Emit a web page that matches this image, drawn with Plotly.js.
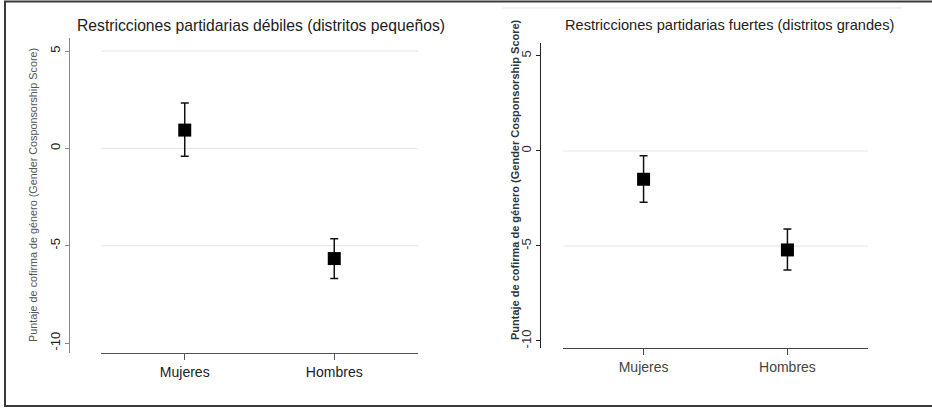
<!DOCTYPE html>
<html>
<head>
<meta charset="utf-8">
<script src="https://cdn.plot.ly/plotly-3.0.1.min.js"></script>
<style>
html,body{margin:0;padding:0;background:#fff;}
#chart{width:932px;height:408px;}
</style>
</head>
<body>
<div id="chart"></div>
<script>
// ---- Data ----
const categories = ["Mujeres", "Hombres"];
const catPos = [1, 2];
const weakEst = [0.94, -5.66];
const weakLow = [-0.40, -6.68];
const weakHigh = [2.33, -4.64];
const strongEst = [-1.49, -5.21];
const strongLow = [-2.70, -6.26];
const strongHigh = [-0.25, -4.11];
const yTicks = [5, 0, -5, -10];
const yTickText = ["5", "0", "-5", "-10"];
const weakGrid = [5, 0, -5];
const strongGrid = [0, -5];
const titleWeak = "Restricciones partidarias débiles (distritos pequeños)";
const titleStrong = "Restricciones partidarias fuertes (distritos grandes)";
const yTitle = "Puntaje de cofirma de género (Gender Cosponsorship Score)";

// ---- Layout helpers ----
const W = 932, H = 408;
const px = x => x / W;
const py = y => 1 - y / H;
const FONT = "Liberation Sans, Arial, sans-serif";

function diff(a, b) { return a.map((v, i) => v - b[i]); }

function trace(est, low, high, xa, ya) {
  return {
    type: "scatter", mode: "markers",
    x: catPos, y: est, xaxis: xa, yaxis: ya,
    marker: {symbol: "square", size: 13, color: "#000"},
    error_y: {type: "data", symmetric: false,
      array: diff(high, est), arrayminus: diff(est, low),
      color: "#111", thickness: 1.5, width: 4},
    hoverinfo: "x+y"
  };
}

const data = [
  trace(weakEst, weakLow, weakHigh, "x", "y"),
  trace(strongEst, strongLow, strongHigh, "x2", "y2")
];

function xAxis(d0, d1, anchor, lineColor, fontColor) {
  return {
    domain: [px(d0), px(d1)], range: [0.44, 2.56], anchor: anchor,
    tickmode: "array", tickvals: catPos, ticktext: categories,
    ticks: "outside", ticklen: 6, tickcolor: lineColor, tickwidth: 1.2,
    showline: true, linecolor: lineColor, linewidth: 1.4,
    showgrid: false, zeroline: false, fixedrange: true,
    tickfont: {family: FONT, size: 14, color: fontColor}
  };
}
function yAxis(top, bottom, pos, range, lineColor, fontColor) {
  return {
    domain: [py(bottom), py(top)], range: range, anchor: "free", position: px(pos),
    tickmode: "array", tickvals: yTicks, ticktext: yTickText, tickangle: -90,
    ticks: "outside", ticklen: 4, tickcolor: lineColor, tickwidth: 1.2,
    showline: true, linecolor: lineColor, linewidth: 1.4,
    showgrid: false, zeroline: false, fixedrange: true,
    tickfont: {family: FONT, size: 13, color: fontColor}
  };
}

const shapes = [];
weakGrid.forEach(v => shapes.push({type: "line", xref: "x domain", yref: "y",
  x0: 0, x1: 1, y0: v, y1: v, layer: "below", line: {color: "#e4e4e4", width: 1}}));
strongGrid.forEach(v => shapes.push({type: "line", xref: "x2 domain", yref: "y2",
  x0: 0, x1: 1, y0: v, y1: v, layer: "below", line: {color: "#e4e4e4", width: 1}}));
// outer frame (right edge lies outside the picture)
shapes.push({type: "rect", xref: "paper", yref: "paper",
  x0: px(5), x1: px(945), y0: py(406), y1: py(1.5),
  line: {color: "#3a3a3a", width: 2}, fillcolor: "rgba(0,0,0,0)"});
// faint leftover line at top of right panel
shapes.push({type: "line", xref: "paper", yref: "paper",
  x0: px(502), x1: px(902), y0: py(8), y1: py(8),
  line: {color: "#ececec", width: 1.5}});

const annotations = [
  {text: titleWeak, xref: "paper", yref: "paper", x: px(261), y: py(25),
   xanchor: "center", yanchor: "middle", showarrow: false,
   font: {family: FONT, size: 15.7, color: "#222"}},
  {text: titleStrong, xref: "paper", yref: "paper", x: px(729), y: py(25),
   xanchor: "center", yanchor: "middle", showarrow: false,
   font: {family: FONT, size: 14.6, color: "#222"}},
  {text: yTitle, xref: "paper", yref: "paper", x: px(33), y: py(195),
   xanchor: "center", yanchor: "middle", showarrow: false, textangle: -90,
   font: {family: FONT, size: 10.8, color: "#555"}},
  {text: yTitle, xref: "paper", yref: "paper", x: px(515), y: py(180),
   xanchor: "center", yanchor: "middle", showarrow: false, textangle: -90,
   font: {family: FONT, size: 11, color: "#333", weight: "bold"}}
];

const layout = {
  width: W, height: H,
  margin: {l: 0, r: 0, t: 0, b: 0},
  paper_bgcolor: "#fff", plot_bgcolor: "#fff",
  showlegend: false,
  xaxis: xAxis(101, 418, "y", "#555", "#222"),
  yaxis: yAxis(38, 353, 69, [-10.51, 5.67], "#888", "#222"),
  xaxis2: xAxis(563, 868, "y2", "#444", "#444"),
  yaxis2: yAxis(43, 348, 540, [-10.37, 5.68], "#222", "#333"),
  shapes: shapes,
  annotations: annotations,
  font: {family: FONT}
};

Plotly.newPlot("chart", data, layout, {displayModeBar: false, responsive: false});
</script>
</body>
</html>
